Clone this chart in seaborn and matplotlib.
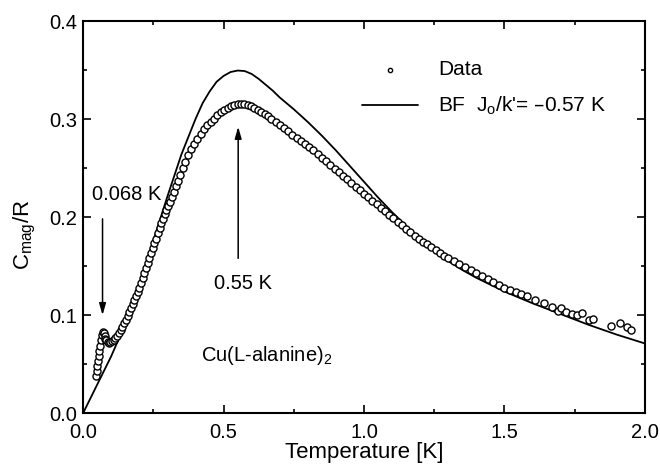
import matplotlib
matplotlib.use("Agg")
import matplotlib.pyplot as plt
from matplotlib.ticker import MultipleLocator
import seaborn as sns
import pandas as pd

temp_data = [0.046, 0.048, 0.050, 0.053, 0.055, 0.058, 0.061, 0.064, 0.067, 0.070,
             0.073, 0.076, 0.079, 0.083, 0.087, 0.092, 0.097, 0.103, 0.109, 0.115,
             0.121, 0.128, 0.134, 0.140, 0.146, 0.152, 0.158, 0.164, 0.170, 0.176,
             0.182, 0.188, 0.194, 0.200, 0.206, 0.212, 0.218, 0.224, 0.230, 0.236,
             0.242, 0.248, 0.254, 0.260, 0.266, 0.272, 0.278, 0.284, 0.290, 0.296,
             0.302, 0.308, 0.315, 0.322, 0.330, 0.338, 0.346, 0.355, 0.364, 0.374,
             0.384, 0.395, 0.406, 0.418, 0.430, 0.442, 0.454, 0.466, 0.478, 0.490,
             0.502, 0.514, 0.526, 0.538, 0.550, 0.562, 0.574, 0.586, 0.598, 0.610,
             0.622, 0.634, 0.646, 0.658, 0.670, 0.685, 0.700, 0.715, 0.730, 0.745,
             0.760, 0.775, 0.790, 0.805, 0.820, 0.835, 0.850, 0.865, 0.880, 0.895,
             0.910, 0.925, 0.940, 0.955, 0.970, 0.985, 1.000, 1.015, 1.030, 1.045,
             1.060, 1.075, 1.090, 1.105, 1.120, 1.135, 1.150, 1.165, 1.180, 1.195,
             1.210, 1.225, 1.240, 1.255, 1.270, 1.285, 1.300, 1.320, 1.340, 1.360,
             1.380, 1.400, 1.420, 1.440, 1.460, 1.480, 1.500, 1.520, 1.540, 1.560,
             1.580, 1.610, 1.640, 1.670, 1.690, 1.700, 1.720, 1.740, 1.760, 1.775,
             1.800, 1.815, 1.880, 1.910, 1.935, 1.950]
cmag_data = [0.038, 0.043, 0.048, 0.053, 0.058, 0.063, 0.068, 0.074, 0.080, 0.083,
             0.082, 0.079, 0.076, 0.074, 0.072, 0.071, 0.072, 0.073, 0.075, 0.077,
             0.079, 0.082, 0.085, 0.088, 0.092, 0.095, 0.099, 0.103, 0.107, 0.111,
             0.115, 0.119, 0.124, 0.128, 0.133, 0.138, 0.143, 0.148, 0.153, 0.158,
             0.163, 0.168, 0.173, 0.178, 0.184, 0.189, 0.194, 0.198, 0.203, 0.207,
             0.211, 0.215, 0.220, 0.226, 0.232, 0.237, 0.243, 0.250, 0.256, 0.263,
             0.269, 0.275, 0.280, 0.285, 0.290, 0.294, 0.297, 0.300, 0.304, 0.307,
             0.309, 0.311, 0.313, 0.314, 0.315, 0.315, 0.315, 0.314, 0.313, 0.311,
             0.309, 0.307, 0.305, 0.303, 0.300, 0.297, 0.294, 0.291, 0.288, 0.284,
             0.281, 0.278, 0.275, 0.271, 0.268, 0.264, 0.260, 0.257, 0.253, 0.249,
             0.246, 0.242, 0.239, 0.235, 0.231, 0.228, 0.224, 0.220, 0.216, 0.213,
             0.209, 0.206, 0.202, 0.199, 0.195, 0.192, 0.188, 0.185, 0.181, 0.178,
             0.175, 0.172, 0.169, 0.166, 0.163, 0.160, 0.158, 0.155, 0.152, 0.149,
             0.146, 0.143, 0.140, 0.137, 0.134, 0.131, 0.128, 0.126, 0.123, 0.121,
             0.119, 0.115, 0.112, 0.108, 0.104, 0.107, 0.103, 0.101, 0.100, 0.102,
             0.095, 0.096, 0.089, 0.092, 0.088, 0.085]

# Bonner-Fisher curve, J0/k' = -0.57 K
temp_bf = [0.0, 0.05, 0.10, 0.15, 0.20, 0.25, 0.30, 0.35, 0.40, 0.425, 0.45, 0.475,
           0.50, 0.525, 0.55, 0.575, 0.60, 0.625, 0.65, 0.675, 0.70, 0.75, 0.80, 0.85,
           0.90, 0.95, 1.00, 1.05, 1.10, 1.15, 1.20, 1.25, 1.30, 1.35, 1.40, 1.45,
           1.50, 1.60, 1.70, 1.80, 1.90, 2.00]
cmag_bf = [0.0, 0.029, 0.058, 0.091, 0.132, 0.176, 0.221, 0.264, 0.300, 0.316, 0.328, 0.338,
           0.344, 0.348, 0.3495, 0.349, 0.346, 0.341, 0.335, 0.329, 0.322, 0.310, 0.297, 0.283,
           0.268, 0.252, 0.236, 0.220, 0.205, 0.191, 0.178, 0.166, 0.155, 0.146, 0.138, 0.131,
           0.124, 0.112, 0.101, 0.090, 0.080, 0.071]

df_data = pd.DataFrame({"T": temp_data, "C": cmag_data})
df_bf = pd.DataFrame({"T": temp_bf, "C": cmag_bf})

sns.set_style("ticks", {"axes.edgecolor": "black", "text.color": "black",
                        "axes.labelcolor": "black", "xtick.color": "black",
                        "ytick.color": "black"})
plt.rcParams["font.family"] = ["Liberation Sans", "DejaVu Sans"]
plt.rcParams["mathtext.default"] = "regular"
plt.rcParams["xtick.direction"] = "in"
plt.rcParams["ytick.direction"] = "in"

fig = plt.figure(figsize=(6.6, 4.68), dpi=100)
ax = fig.add_axes([0.126, 0.1175, 0.851, 0.8375])

sns.lineplot(data=df_bf, x="T", y="C", ax=ax, color="black", lw=1.3,
             label="BF  J$_o$/k'= \u20130.57 K", zorder=2)
sns.scatterplot(data=df_data, x="T", y="C", ax=ax, marker="o", s=26,
                facecolor="white", edgecolor="black", linewidth=1.0,
                label="Data", zorder=3)

ax.set_xlim(0, 2.0)
ax.set_ylim(0, 0.4)
ax.xaxis.set_major_locator(MultipleLocator(0.5))
ax.xaxis.set_minor_locator(MultipleLocator(0.25))
ax.yaxis.set_major_locator(MultipleLocator(0.1))
ax.yaxis.set_minor_locator(MultipleLocator(0.05))
ax.tick_params(which="both", top=True, right=True, labelsize=14.5, width=1.2)
ax.tick_params(axis="x", pad=7)
ax.tick_params(axis="y", pad=4)
ax.tick_params(which="major", length=6)
ax.tick_params(which="minor", length=3)
for sp in ax.spines.values():
    sp.set_linewidth(1.5)

ax.set_xlabel("Temperature [K]", fontsize=16, labelpad=0)
ax.set_ylabel("C$_{mag}$/R", fontsize=16)
ax.yaxis.set_label_coords(-0.08, 0.455)

# annotations
arrow_style = "-|>,head_length=0.7,head_width=0.2"
ax.annotate("", xy=(0.069, 0.097), xytext=(0.069, 0.201),
            arrowprops=dict(arrowstyle=arrow_style, color="black", lw=1.1))
ax.text(0.032, 0.223, "0.068 K", fontsize=14.5, va="center", ha="left")
ax.annotate("", xy=(0.552, 0.295), xytext=(0.552, 0.155),
            arrowprops=dict(arrowstyle=arrow_style, color="black", lw=1.1))
ax.text(0.57, 0.132, "0.55 K", fontsize=14.5, va="center", ha="center")
ax.text(0.42, 0.059, "Cu(L-alanine)$_2$", fontsize=14.5, va="center", ha="left")

handles, labels = ax.get_legend_handles_labels()
bf_label = [l for l in labels if l.startswith("BF")][0]
order = [labels.index("Data"), labels.index(bf_label)]
ax.legend([handles[i] for i in order], [labels[i] for i in order],
          loc="upper left", bbox_to_anchor=(0.496, 0.90), frameon=False,
          fontsize=15, handlelength=2.7, labelspacing=0.75, markerscale=0.6,
          handletextpad=0.95, borderpad=0, borderaxespad=0)

fig.savefig("out.png", dpi=100)
